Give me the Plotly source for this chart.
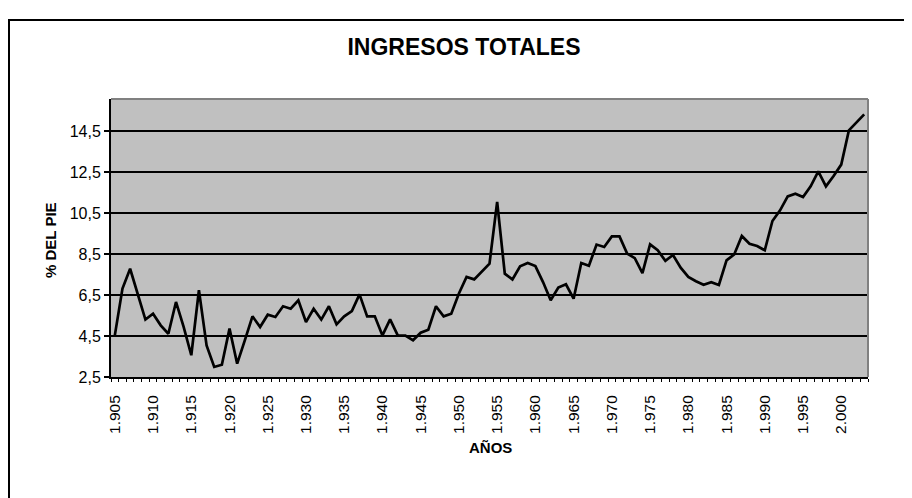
import plotly.graph_objects as go

years = list(range(1905, 2004))
values = [
    4.53, 6.81, 7.78, 6.57, 5.30, 5.59, 5.02, 4.61, 6.16, 4.94,
    3.56, 6.73, 4.04, 2.99, 3.10, 4.86, 3.15, 4.29, 5.46, 4.94,
    5.54, 5.43, 5.95, 5.83, 6.24, 5.18, 5.83, 5.30, 5.95, 5.07,
    5.46, 5.72, 6.53, 5.46, 5.46, 4.53, 5.31, 4.53, 4.52, 4.29,
    4.66, 4.81, 5.95, 5.46, 5.59, 6.57, 7.38, 7.26, 7.67, 8.03,
    11.04, 7.54, 7.26, 7.90, 8.06, 7.91, 7.13, 6.24, 6.86, 7.02,
    6.32, 8.06, 7.93, 8.96, 8.84, 9.36, 9.36, 8.52, 8.30, 7.57,
    8.97, 8.68, 8.17, 8.45, 7.83, 7.38, 7.17, 7.00, 7.12, 6.99,
    8.19, 8.48, 9.38, 9.00, 8.89, 8.68, 10.11, 10.63, 11.31, 11.44,
    11.28, 11.80, 12.53, 11.80, 12.30, 12.86, 14.53, 14.94, 15.31,
]
x_tick_years = list(range(1905, 2001, 5))
y_ticks = [2.5, 4.5, 6.5, 8.5, 10.5, 12.5, 14.5]

# page offset (default body margin of the html page)
OX, OY = 8, 8
W, H = 912 - OX, 498 - OY
# plot area in page pixels
L, R, T, B = 111, 868, 99, 377


def px(x):
    return (x - L) / (R - L)


def py(y):
    return (B - y) / (B - T)


fig = go.Figure()
fig.add_trace(go.Scatter(
    x=years, y=values, mode="lines",
    line=dict(color="black", width=2.7),
    showlegend=False, hoverinfo="skip",
))

fig.update_layout(
    width=W, height=H,
    margin=dict(l=L - OX, r=912 - R, t=T - OY, b=498 - B, pad=0),
    paper_bgcolor="white",
    plot_bgcolor="#C0C0C0",
    separators=",.",
    font=dict(family="Liberation Sans, Arial, sans-serif", size=15, color="black"),
    title=dict(
        text="<b>INGRESOS TOTALES</b>",
        x=px(464), xref="paper", xanchor="center",
        y=1 - (47 - OY) / H, yref="container", yanchor="middle",
        font=dict(size=23, color="black"),
    ),
    xaxis=dict(
        range=[1904.5, 2003.5],
        tickmode="array", tickvals=x_tick_years,
        tickformat=",d",
        tickangle=-90,
        ticks="", showgrid=False, zeroline=False,
        showline=True, linecolor="black", linewidth=2,
        ticklabelstandoff=10,
        tickfont=dict(size=15.5),
        minor=dict(tick0=1904.5, dtick=1, ticks="outside", ticklen=3,
                   tickcolor="black", tickwidth=1, showgrid=False),
    ),
    yaxis=dict(
        range=[2.5, 16.06],
        tickmode="array", tickvals=y_ticks,
        tickformat=".1f",
        ticks="outside", ticklen=5, tickwidth=2, tickcolor="black",
        tickfont=dict(size=16),
        showgrid=True, gridcolor="black", gridwidth=1.5,
        zeroline=False,
        showline=True, linecolor="black", linewidth=2,
    ),
    shapes=[
        # plot area top and right border (gray)
        dict(type="line", xref="paper", yref="paper", x0=0, x1=1, y0=1, y1=1,
             line=dict(color="#808080", width=2)),
        dict(type="line", xref="paper", yref="paper", x0=1, x1=1, y0=0, y1=1,
             line=dict(color="#808080", width=2)),
        # outer chart frame
        dict(type="rect", xref="paper", yref="paper",
             x0=px(9), x1=px(905), y0=py(520), y1=py(20),
             line=dict(color="black", width=2), fillcolor="rgba(0,0,0,0)",
             layer="above"),
    ],
    annotations=[
        dict(text="<b>% DEL PIE</b>", xref="paper", yref="paper",
             x=px(50), y=py(240), textangle=-90, showarrow=False,
             xanchor="center", yanchor="middle", font=dict(size=15)),
        dict(text="<b>AÑOS</b>", xref="paper", yref="paper",
             x=px(490), y=py(447), showarrow=False,
             xanchor="center", yanchor="middle", font=dict(size=15)),
    ],
)

fig.write_html("out.html")
